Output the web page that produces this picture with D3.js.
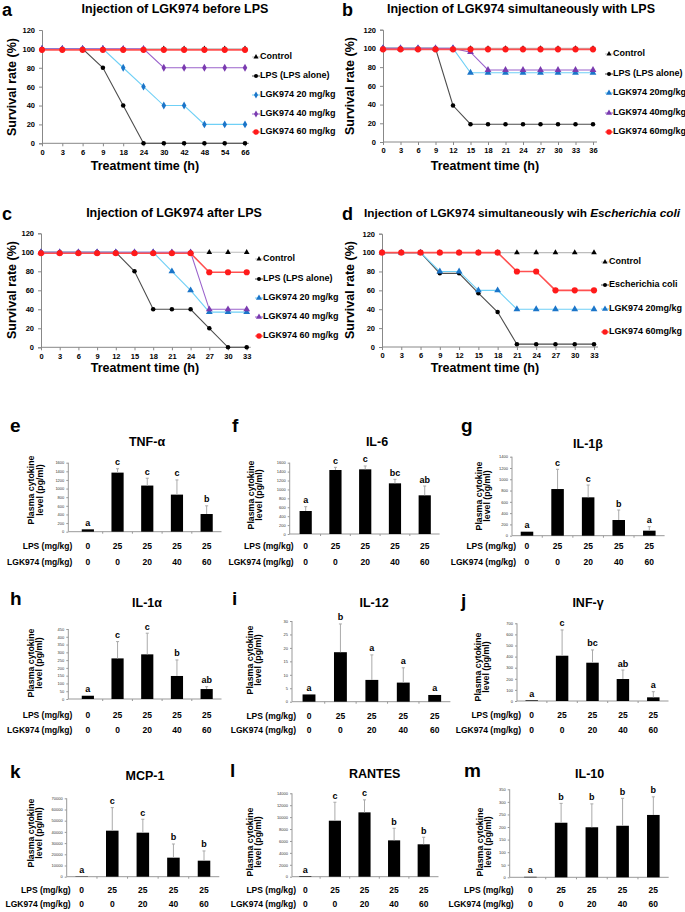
<!DOCTYPE html>
<html><head><meta charset="utf-8">
<script src="https://cdn.jsdelivr.net/npm/d3@7"></script>
<style>html,body{margin:0;padding:0;background:#fff;}svg{display:block;}</style>
</head><body>
<script>
// ---------------- DATA ----------------
const timesA = ["0","3","6","9","18","24","30","42","48","54","66"];
const aControl = [100,100,100,100,100,100,100,100,100,100,100];
const aLPS     = [100,100,100,80,40,0,0,0,0,0,0];
const a20      = [100,100,100,100,80,60,40,40,20,20,20];
const a40      = [100,100,100,100,100,100,80,80,80,80,80];
const a60      = [99,99,99,99,99,99,99,99,99,99,99];

const timesB = ["0","3","6","9","12","15","18","21","24","27","30","33","36"];
const bControl = [100,100,100,100,100,100,100,100,100,100,100,100,100];
const bLPS     = [100,100,100,100,39,19,19,19,19,19,19,19,19];
const b20      = [100,100,100,100,100,74,74,74,74,74,74,74,74];
const b40      = [100,100,100,100,100,96,77,77,77,77,77,77,77];
const b60      = [99,99,99,99,99,99,99,99,99,99,99,99,99];

const timesC = ["0","3","6","9","12","15","18","21","24","27","30","33"];
const cControl = [100,100,100,100,100,100,100,100,100,100,100,100];
const cLPS     = [100,100,100,100,100,80,40,40,40,20,0,0];
const c20      = [100,100,100,100,100,100,100,80,60,37,37,37];
const c40      = [100,100,100,100,100,100,100,100,100,40,40,40];
const c60      = [99,99,99,99,99,99,99,99,99,79,79,79];

const timesD = ["0","3","6","9","12","15","18","21","24","27","30","33"];
const dControl = [100,100,100,100,100,100,100,100,100,100,100,100];
const dEcoli   = [100,100,100,78,78,57,37,3,3,3,3,3];
const d20      = [100,100,100,80,80,60,60,40,40,40,40,40];
const d60      = [100,100,100,100,100,100,100,80,80,60,60,60];

const survivalTicks = [0,20,40,60,80,100,120];

const lpsDose = ["0","25","25","25","25"];
const lgkDose = ["0","0","20","40","60"];

const tnfMean = [55,1370,1070,860,410];       const tnfSD = [0,90,170,340,190];     const tnfSig = ["a","c","c","c","b"];
const il6Mean = [516,1436,1451,1137,868];      const il6SD = [97,60,75,90,209];      const il6Sig = ["a","c","c","bc","ab"];
const il1bMean = [71,827,680,278,89];          const il1bSD = [0,350,218,177,71];    const il1bSig = ["a","c","c","b","a"];
const il1aMean = [21,261,287,148,64];          const il1aSD = [0,108,136,103,15];    const il1aSig = ["a","c","c","b","ab"];
const il12Mean = [2.7,18.4,8.1,7.1,2.5];       const il12SD = [0,10.5,9.3,5.5,0];    const il12Sig = ["a","b","a","a","a"];
const infgMean = [6,408,345,198,33];           const infgSD = [0,232,115,81,51];     const infgSig = ["a","c","bc","ab","a"];
const mcpMean = [300,41100,39300,17000,14300]; const mcpSD = [0,20600,12000,12200,8700]; const mcpSig = ["a","c","c","b","b"];
const rantesMean = [100,9400,10800,6100,5440]; const rantesSD = [0,3100,2100,2030,1180]; const rantesSig = ["a","c","c","b","b"];
const il10Mean = [2,217,199,205,248];          const il10SD = [0,77,93,109,72];      const il10Sig = ["a","b","b","b","b"];

// ---------------- DRAWING ----------------
const FONT = "'Liberation Sans', Arial, Helvetica, sans-serif";
const W = 685, H = 912;
const svg = d3.select("body").append("svg").attr("width", W).attr("height", H)
  .style("font-family", FONT);

function txt(x, y, s, o = {}) {
  const t = svg.append("text").attr("x", x).attr("y", y).text(s)
    .attr("font-size", o.size || 10)
    .attr("font-weight", o.weight || "bold")
    .attr("text-anchor", o.anchor || "start")
    .attr("dominant-baseline", o.base || "middle")
    .attr("fill", o.fill || "#000");
  if (o.rotate) t.attr("transform", `rotate(-90,${x},${y})`);
  return t;
}

const ST = {
  control: {line: "#bdbdbd", fill: "#000", sym: d3.symbolTriangle, size: 14},
  lps:     {line: "#4d4d4d", fill: "#000", sym: d3.symbolCircle, size: 16},
  g20d:    {line: "#6fd0f6", fill: "#1b75c9", sym: d3.symbolDiamond, size: 18},
  g40d:    {line: "#9a63cc", fill: "#7a3bb0", sym: d3.symbolDiamond, size: 18},
  g20t:    {line: "#6fd0f6", fill: "#1b75c9", sym: d3.symbolTriangle, size: 20},
  g40t:    {line: "#9a63cc", fill: "#7a3bb0", sym: d3.symbolTriangle, size: 20},
  g60:     {line: "#ff5050", fill: "#ff1a1a", sym: d3.symbolCircle, size: 30}
};

function survival(p) {
  const x = d3.scalePoint().domain(p.times).range([p.x0, p.x1]);
  const y = d3.scaleLinear().domain([0,120]).range([p.y0, p.y120]);
  const g = svg.append("g");
  const ya = g.append("g").attr("transform", `translate(${p.x0},0)`)
    .call(d3.axisLeft(y).tickValues(survivalTicks).tickSize(3).tickPadding(4));
  const xa = g.append("g").attr("transform", `translate(0,${p.y0})`)
    .call(d3.axisBottom(x).tickSize(3).tickPadding(3));
  [ya, xa].forEach(a => {
    a.select(".domain").attr("stroke", "#888");
    a.selectAll(".tick line").attr("stroke", "#888");
    a.selectAll("text").attr("font-size", 7.5).attr("font-weight", "bold")
      .attr("font-family", FONT).attr("fill", "#000");
  });
  xa.select(".domain").attr("d", `M${p.x0},0H${p.x1 + 4}`);
  p.series.forEach(s => {
    const st = ST[s.style];
    const line = d3.line().x((d, i) => x(p.times[i])).y(d => y(d));
    g.append("path").datum(s.values).attr("d", line).attr("fill", "none")
      .attr("stroke", st.line).attr("stroke-width", s.style === "g60" ? 1.6 : 1.1);
    g.selectAll(null).data(s.values).enter().append("path")
      .attr("d", d3.symbol().type(st.sym).size(st.size))
      .attr("transform", (d, i) => `translate(${x(p.times[i])},${y(d)})`)
      .attr("fill", st.fill);
  });
  p.series.forEach((s, i) => {
    const st = ST[s.style];
    const ly = p.legY[i];
    g.append("line").attr("x1", p.legX - 4).attr("x2", p.legX + 4)
      .attr("y1", ly).attr("y2", ly).attr("stroke", st.line).attr("stroke-width", 1);
    g.append("path").attr("d", d3.symbol().type(st.sym).size(st.size * 0.8)())
      .attr("transform", `translate(${p.legX},${ly})`).attr("fill", st.fill);
    txt(p.legX + 4, ly, s.name, {size: 9});
  });
  txt(p.letterX, p.letterY, p.letter, {size: 18});
  if (p.titleNodes) {
    const t = txt(p.titleX, p.titleY, "", {size: p.titleSize || 12.5, anchor: "middle"});
    p.titleNodes.forEach(n => t.append("tspan").text(n.t).attr("font-style", n.i ? "italic" : "normal"));
  } else {
    txt(p.titleX, p.titleY, p.title, {size: p.titleSize || 12.5, anchor: "middle"});
  }
  txt(p.ylabX, p.ylabY, "Survival rate (%)", {size: 12.5, anchor: "middle", rotate: true});
  txt(p.xlabX, p.xlabY, "Treatment time (h)", {size: 12.5, anchor: "middle"});
}

const legNames5 = ["Control","LPS (LPS alone)","LGK974 20 mg/kg","LGK974 40 mg/kg","LGK974 60 mg/kg"];
const legNames5b = ["Control","LPS (LPS alone)","LGK974 20mg/kg","LGK974 40mg/kg","LGK974 60mg/kg"];
const legNames4 = ["Control","Escherichia coli","LGK974 20mg/kg","LGK974 60mg/kg"];

survival({times: timesA, x0: 42, x1: 245, y0: 143.3, y120: 30,
  series: [{name: legNames5[0], values: aControl, style: "control"},
           {name: legNames5[1], values: aLPS, style: "lps"},
           {name: legNames5[2], values: a20, style: "g20d"},
           {name: legNames5[3], values: a40, style: "g40d"},
           {name: legNames5[4], values: a60, style: "g60"}],
  legX: 256, legY: [57,76,95,114,132],
  letter: "a", letterX: 2, letterY: 11, title: "Injection of LGK974 before LPS", titleX: 175, titleY: 10,
  ylabX: 13, ylabY: 87, xlabX: 145, xlabY: 167});

survival({times: timesB, x0: 383, x1: 593, y0: 142, y120: 29.7,
  series: [{name: legNames5b[0], values: bControl, style: "control"},
           {name: legNames5b[1], values: bLPS, style: "lps"},
           {name: legNames5b[2], values: b20, style: "g20t"},
           {name: legNames5b[3], values: b40, style: "g40t"},
           {name: legNames5b[4], values: b60, style: "g60"}],
  legX: 609, legY: [54,74,93,113,132],
  letter: "b", letterX: 342, letterY: 11, title: "Injection of LGK974 simultaneously with LPS", titleX: 521, titleY: 10,
  ylabX: 351, ylabY: 86, xlabX: 485, xlabY: 167});

survival({times: timesC, x0: 41, x1: 246.7, y0: 347.3, y120: 233.3,
  series: [{name: legNames5[0], values: cControl, style: "control"},
           {name: legNames5[1], values: cLPS, style: "lps"},
           {name: legNames5[2], values: c20, style: "g20t"},
           {name: legNames5[3], values: c40, style: "g40t"},
           {name: legNames5[4], values: c60, style: "g60"}],
  legX: 259, legY: [259,279,298,317,336],
  letter: "c", letterX: 2, letterY: 215, title: "Injection of LGK974 after LPS", titleX: 174, titleY: 214,
  ylabX: 13, ylabY: 290, xlabX: 145, xlabY: 369});

survival({times: timesD, x0: 382, x1: 594, y0: 347, y120: 233.7,
  series: [{name: legNames4[0], values: dControl, style: "control"},
           {name: legNames4[1], values: dEcoli, style: "lps"},
           {name: legNames4[2], values: d20, style: "g20t"},
           {name: legNames4[3], values: d60, style: "g60"}],
  legX: 605, legY: [262,285,309,332],
  letter: "d", letterX: 342, letterY: 215, titleSize: 11.8,
  titleNodes: [{t: "Injection of LGK974 simultaneously wih "}, {t: "Escherichia coli", i: true}], titleX: 522, titleY: 214,
  ylabX: 351, ylabY: 290, xlabX: 485, xlabY: 369});

// ---------------- BAR PANELS ----------------
function bars(p) {
  const x = d3.scaleBand().domain(d3.range(5)).range(p.band).paddingInner(0.59).paddingOuter(0.295);
  const y = d3.scaleLinear().domain([0, p.ymax]).range([p.y0, p.yTop]);
  const g = svg.append("g");
  const ya = g.append("g").attr("transform", `translate(${p.axisX},0)`)
    .call(d3.axisLeft(y).tickValues(d3.range(0, p.ymax + p.step / 2, p.step))
      .tickFormat(d3.format("d")).tickSize(2).tickPadding(2));
  ya.select(".domain").attr("stroke", "#999").attr("d", `M0,${p.y0}V${p.yTop}`);
  ya.selectAll(".tick line").attr("stroke", "#999");
  ya.selectAll("text").attr("font-size", 4).attr("font-family", FONT).attr("fill", "#333");
  g.append("line").attr("x1", p.axisX).attr("x2", p.band[1]).attr("y1", p.y0).attr("y2", p.y0)
    .attr("stroke", "#999").attr("stroke-width", 1);
  g.selectAll(null).data(d3.range(1, 5)).enter().append("line")
    .attr("x1", i => x.step() * i + p.band[0]).attr("x2", i => x.step() * i + p.band[0])
    .attr("y1", p.y0).attr("y2", p.y0 + 2).attr("stroke", "#999");
  g.selectAll(null).data(p.mean).enter().append("rect")
    .attr("x", (d, i) => x(i)).attr("width", x.bandwidth())
    .attr("y", d => y(d)).attr("height", d => p.y0 - y(d)).attr("fill", "#000");
  p.mean.forEach((m, i) => {
    if (p.sd[i] > 0) {
      const cx = x(i) + x.bandwidth() / 2;
      g.append("line").attr("x1", cx).attr("x2", cx).attr("y1", y(m)).attr("y2", y(m + p.sd[i]))
        .attr("stroke", "#aaa").attr("stroke-width", 1);
      g.append("line").attr("x1", cx - 1.5).attr("x2", cx + 1.5).attr("y1", y(m + p.sd[i])).attr("y2", y(m + p.sd[i]))
        .attr("stroke", "#aaa").attr("stroke-width", 1);
    }
    txt(x(i) + x.bandwidth() / 2, y(m + p.sd[i]) - 3.5, p.sig[i], {size: 9, anchor: "middle", base: "auto"});
    txt(x(i) + x.bandwidth() / 2, p.lpsY, lpsDose[i], {size: 8.5, anchor: "middle"});
    txt(x(i) + x.bandwidth() / 2, p.lgkY, lgkDose[i], {size: 8.5, anchor: "middle"});
  });
  txt(p.axisX + 4, p.lpsY, "LPS (mg/kg)", {size: 8.5, anchor: "end"});
  txt(p.axisX + 4, p.lgkY, "LGK974 (mg/kg)", {size: 8.5, anchor: "end"});
  txt(p.lx, p.ly, p.letter, {size: 19});
  txt(p.tx, p.ty, p.title, {size: 12.5, anchor: "middle"});
  txt(p.ylx[0], p.yly, "Plasma cytokine", {size: 8.8, anchor: "middle", rotate: true});
  txt(p.ylx[1], p.yly, "level (pg/ml)", {size: 8.8, anchor: "middle", rotate: true});
}

bars({letter: "e", lx: 10, ly: 427, title: "TNF-α", tx: 147, ty: 443, axisX: 68.3, band: [73, 221.5],
  y0: 531.7, yTop: 462.7, ymax: 1600, step: 200, ylx: [32, 41], yly: 490, lpsY: 547, lgkY: 563,
  mean: tnfMean, sd: tnfSD, sig: tnfSig});
bars({letter: "f", lx: 232, ly: 427, title: "IL-6", tx: 377, ty: 443, axisX: 289.7, band: [290.8, 439.6],
  y0: 534, yTop: 462.7, ymax: 1600, step: 200, ylx: [252, 260], yly: 495, lpsY: 547, lgkY: 563,
  mean: il6Mean, sd: il6SD, sig: il6Sig});
bars({letter: "g", lx: 461, ly: 427, title: "IL-1β", tx: 588, ty: 445, axisX: 512, band: [511.7, 664.6],
  y0: 535.7, yTop: 456.7, ymax: 1400, step: 200, ylx: [480, 488], yly: 496, lpsY: 547, lgkY: 563,
  mean: il1bMean, sd: il1bSD, sig: il1bSig});
bars({letter: "h", lx: 10, ly: 600, title: "IL-1α", tx: 147, ty: 604, axisX: 68.3, band: [73, 221.5],
  y0: 699, yTop: 629, ymax: 450, step: 50, ylx: [32, 40], yly: 663, lpsY: 715.7, lgkY: 730.7,
  mean: il1aMean, sd: il1aSD, sig: il1aSig});
bars({letter: "i", lx: 232, ly: 600, title: "IL-12", tx: 374, ty: 604, axisX: 292, band: [293.3, 450.4],
  y0: 701.7, yTop: 621, ymax: 30, step: 5, ylx: [250.7, 258.7], yly: 660, lpsY: 716.7, lgkY: 731,
  mean: il12Mean, sd: il12SD, sig: il12Sig});
bars({letter: "j", lx: 461, ly: 602, title: "INF-γ", tx: 588, ty: 604, axisX: 517, band: [516.5, 668.5],
  y0: 701, yTop: 623.3, ymax: 700, step: 100, ylx: [479, 487], yly: 667, lpsY: 716, lgkY: 731,
  mean: infgMean, sd: infgSD, sig: infgSig});
bars({letter: "k", lx: 10, ly: 773, title: "MCP-1", tx: 145, ty: 777, axisX: 66.7, band: [66.4, 219.3],
  y0: 876.7, yTop: 798.3, ymax: 70000, step: 10000, ylx: [32, 40], yly: 833, lpsY: 890.7, lgkY: 904.3,
  mean: mcpMean, sd: mcpSD, sig: mcpSig});
bars({letter: "l", lx: 230, ly: 772, title: "RANTES", tx: 374.7, ty: 775, axisX: 292, band: [290.5, 438.5],
  y0: 876.7, yTop: 793.3, ymax: 14000, step: 2000, ylx: [250.7, 258.7], yly: 842, lpsY: 890.7, lgkY: 904.3,
  mean: rantesMean, sd: rantesSD, sig: rantesSig});
bars({letter: "m", lx: 464, ly: 772, title: "IL-10", tx: 589.7, ty: 775, axisX: 509.7, band: [515, 668.7],
  y0: 877.3, yTop: 789.3, ymax: 350, step: 50, ylx: [481, 488.7], yly: 842, lpsY: 890.7, lgkY: 904.3,
  mean: il10Mean, sd: il10SD, sig: il10Sig});
</script>
</body></html>
